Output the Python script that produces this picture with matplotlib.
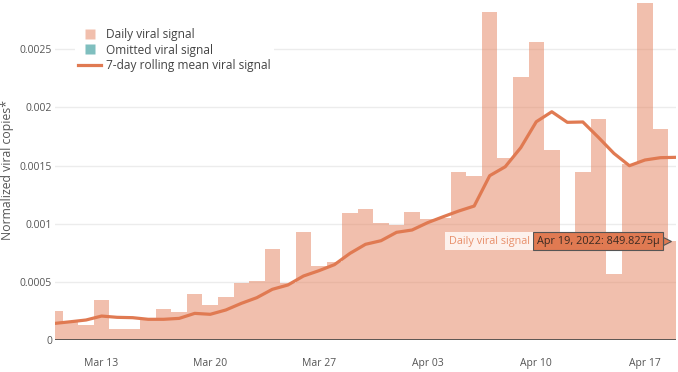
import numpy as np
import pandas as pd
import matplotlib
matplotlib.use("Agg")
import matplotlib.pyplot as plt
import matplotlib.dates as mdates
from matplotlib.lines import Line2D
from matplotlib.transforms import offset_copy

plt.rcParams['font.family'] = ['Open Sans', 'DejaVu Sans']

# daily values (Mar 10 .. Apr 19, 2022)
dates = pd.date_range("2022-03-10", "2022-04-19", freq="D")
daily = [0.00025, 0.00016, 0.00013, 0.00034, 0.000092, 0.000092, 0.00019, 0.000267,
         0.000243, 0.000393, 0.000298, 0.000372, 0.00049, 0.000507, 0.000785, 0.00049,
         0.000929, 0.000636, 0.000668, 0.001095, 0.001127, 0.001003, 0.000992, 0.0011,
         0.00104, 0.00105, 0.001445, 0.001413, 0.002823, 0.001565, 0.002265, 0.00256,
         0.001634, 0.00084, 0.001445, 0.0019, 0.000568, 0.00151, 0.0029, 0.001815,
         0.0008498]
rolling = [0.000143, 0.000157, 0.000172, 0.000206, 0.000195, 0.000192, 0.000178, 0.000178,
           0.000186, 0.000229, 0.000221, 0.000258, 0.000315, 0.000364, 0.000436, 0.000473,
           0.00055, 0.000596, 0.000648, 0.000745, 0.000823, 0.000854, 0.000926, 0.000946,
           0.001009, 0.00106, 0.001109, 0.001152, 0.001413, 0.00149, 0.001654, 0.001877,
           0.001963, 0.001872, 0.001875, 0.001743, 0.001605, 0.001499, 0.001548, 0.001568,
           0.001571]
yticks = [0, 0.0005, 0.001, 0.0015, 0.002, 0.0025]
ytick_labels = ["0", "0.0005", "0.001", "0.0015", "0.002", "0.0025"]
xtick_dates = pd.to_datetime(["2022-03-13", "2022-03-20", "2022-03-27",
                              "2022-04-03", "2022-04-10", "2022-04-17"])
xtick_labels = ["Mar 13", "Mar 20", "Mar 27", "Apr 03", "Apr 10", "Apr 17"]

bar_col = "#e5815c"
line_col = "#e07a52"
grey = "#555555"

fig = plt.figure(figsize=(6.78, 3.72), dpi=100)
ax = fig.add_axes([55 / 678, 32 / 372, 621 / 678, 340 / 372])

x = mdates.date2num(dates)
ax.bar(x, daily, width=1.0, color=bar_col, alpha=0.5, linewidth=0, zorder=2)
ax.plot(x, rolling, color=line_col, lw=2.3, zorder=3, solid_joinstyle="round")

ax.set_xlim(x[0], x[-1])
ax.set_ylim(0, 0.002924)
ax.set_yticks(yticks)
ax.set_yticklabels(ytick_labels)
ax.set_xticks(mdates.date2num(xtick_dates))
ax.set_xticklabels(xtick_labels)
ax.tick_params(axis="both", length=0, labelsize=7.5, labelcolor=grey)
ax.tick_params(axis="x", pad=13)
ax.tick_params(axis="y", pad=2)
ax.grid(axis="y", color="#ececec", lw=1, zorder=1)
ax.set_axisbelow(True)
for s in ax.spines.values():
    s.set_visible(False)
ax.axhline(0, color="#444444", lw=1.2, zorder=4)
ax.set_ylabel("Normalized viral copies*", fontsize=8.8, color=grey)
ax.yaxis.set_label_coords(-0.066, 0.5)

handles = [Line2D([0], [0], marker="s", ls="none", markersize=7.5,
                  markerfacecolor=bar_col, markeredgecolor="none", alpha=0.5),
           Line2D([0], [0], marker="s", ls="none", markersize=7.5,
                  markerfacecolor="#7fbfbf", markeredgecolor="none"),
           Line2D([0], [0], color=line_col, lw=2.3)]
labels = ["Daily viral signal", "Omitted viral signal", "7-day rolling mean viral signal"]
leg = ax.legend(handles, labels, loc="upper left", bbox_to_anchor=(0.022, 0.945),
                frameon=True, fontsize=8.6, labelcolor="#444444", handlelength=1.9,
                labelspacing=0.2, borderpad=0.3, handletextpad=0.4)
leg.get_frame().set_facecolor("white")
leg.get_frame().set_edgecolor("none")
leg.get_frame().set_alpha(1)
leg.set_zorder(6)

# hover label on the last bar
tip_x, tip_y = x[-1] - 0.35, daily[-1]
ax.annotate("Apr 19, 2022: 849.8275\u03bc", xy=(tip_x, tip_y),
            xytext=(-11, 0), textcoords="offset pixels", ha="right", va="center",
            fontsize=7.8, color="#3a2a22", zorder=7,
            bbox=dict(boxstyle="square,pad=0.35", fc="#e07a52", ec="#555555", lw=0.8))
ax.annotate("Daily viral signal", xy=(tip_x, tip_y),
            xytext=(-141, 0), textcoords="offset pixels", ha="right", va="center",
            fontsize=7.8, color="#e8906c", zorder=7,
            bbox=dict(boxstyle="square,pad=0.35", fc="#fdf1ec", ec="none"))
tri = offset_copy(ax.transData, fig=fig, x=-4, y=0, units="dots")
ax.plot([tip_x], [tip_y], marker=">", markersize=6, color="#e07a52",
        markeredgecolor="#555555", markeredgewidth=0.8, transform=tri, zorder=6.5)

fig.savefig("out.png", dpi=100)
